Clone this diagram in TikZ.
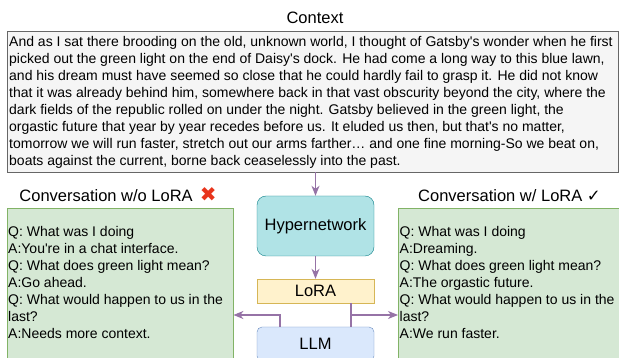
\documentclass[tikz,border=0pt]{standalone}
\usepackage{fontspec}
\setmainfont{Liberation Sans}[Ligatures=TeXOff]
\newfontfamily\symfont{DejaVu Sans}
\usetikzlibrary{arrows.meta, positioning}

\definecolor{ctxfill}{HTML}{F5F5F5}
\definecolor{ctxline}{HTML}{666666}
\definecolor{convfill}{HTML}{D5E8D4}
\definecolor{convline}{HTML}{82B366}
\definecolor{hyperfill}{HTML}{B0E3E6}
\definecolor{hyperline}{HTML}{0E8088}
\definecolor{lorafill}{HTML}{FFF2CC}
\definecolor{loraline}{HTML}{D6B656}
\definecolor{llmfill}{HTML}{DAE8FC}
\definecolor{llmline}{HTML}{6C8EBF}
\definecolor{linkcol}{HTML}{9673A6}
\definecolor{xred}{HTML}{E8341C}

\tikzset{
  boxtext/.style={font=\fontsize{16.5}{19}\selectfont},
  ctxbox/.style={draw=ctxline, fill=ctxfill, anchor=north west, minimum width=611pt, minimum height=141pt},
  plaintext/.style={anchor=north west, align=left, inner sep=0pt, font=\fontsize{14}{17}\selectfont},
  convbox/.style={draw=convline, fill=convfill, anchor=north west, minimum height=170pt},
  hyperbox/.style={draw=hyperline, fill=hyperfill, rounded corners=9pt, minimum width=117pt, minimum height=60pt, boxtext},
  lorabox/.style={draw=loraline, fill=lorafill, minimum width=117pt, minimum height=24pt, boxtext},
  llmbox/.style={draw=llmline, fill=llmfill, rounded corners=5pt, minimum width=117pt, minimum height=34pt, boxtext},
  linkline/.style={draw=linkcol, line width=1.2pt},
  link/.style={linkline, -{Stealth[length=10pt, width=8pt, inset=3pt]}}
}

\begin{document}
\begin{tikzpicture}[x=1pt, y=-1pt]
  \useasboundingbox (0,0) rectangle (619,358);

  \node (ctxtitle) [anchor=base, boxtext] at (315,23.3) {Context};
  \node (ctx) [ctxbox] at (7,31) {};
  \node (ctxtext) [plaintext] at (9,36.5) {And as I sat there brooding on the old, unknown world, I thought of Gatsby's wonder when he first\\
picked out the green light on the end of Daisy's dock. He had come a long way to this blue lawn,\\
and his dream must have seemed so close that he could hardly fail to grasp it. He did not know\\
that it was already behind him, somewhere back in that vast obscurity beyond the city, where the\\
dark fields of the republic rolled on under the night. Gatsby believed in the green light, the\\
orgastic future that year by year recedes before us. It eluded us then, but that's no matter,\\
tomorrow we will run faster, stretch out our arms farther… and one fine morning-So we beat on,\\
boats against the current, borne back ceaselessly into the past.};

  \node (notitle) [anchor=base, boxtext] at (118,201.7) {Conversation w/o LoRA\hspace{7pt}{\symfont\fontsize{20}{20}\selectfont\color{xred}✖}};
  \node (yestitle) [anchor=base, boxtext] at (509.5,201.7) {Conversation w/ LoRA {\symfont ✓}};

  \node (convno) [convbox, minimum width=226pt] at (7,208) {};
  \node (convyes) [convbox, minimum width=230pt] at (398,208) {};

  \node (notext) [plaintext] at (8,226.5) {Q: What was I doing\\
A:You're in a chat interface.\\
Q: What does green light mean?\\
A:Go ahead.\\
Q: What would happen to us in the\\
last?\\
A:Needs more context.};
  \node (yestext) [plaintext] at (399.5,226.5) {Q: What was I doing\\
A:Dreaming.\\
Q: What does green light mean?\\
A:The orgastic future.\\
Q: What would happen to us in the\\
last?\\
A:We run faster.};

  \node (hyper) [hyperbox] at (315.5,226) {Hypernetwork};
  \node (lora) [lorabox] at (315.5,291) {LoRA};
  \node (llm) [llmbox] at (315.5,344) {LLM};

  \coordinate (lsplit) at (280,315);
  \coordinate (rsplit) at (351,315);

  \draw[link] (hyper.north |- ctx.south) -- (hyper.north);
  \draw[link] (hyper.south) -- (lora.north);
  \draw[link] (llm.north -| lsplit) |- (convno.east |- lsplit);
  \draw[linkline] (lora.south -| rsplit) -- (llm.north -| rsplit);
  \draw[link] (rsplit) -- (convyes.west |- rsplit);
\end{tikzpicture}
\end{document}
